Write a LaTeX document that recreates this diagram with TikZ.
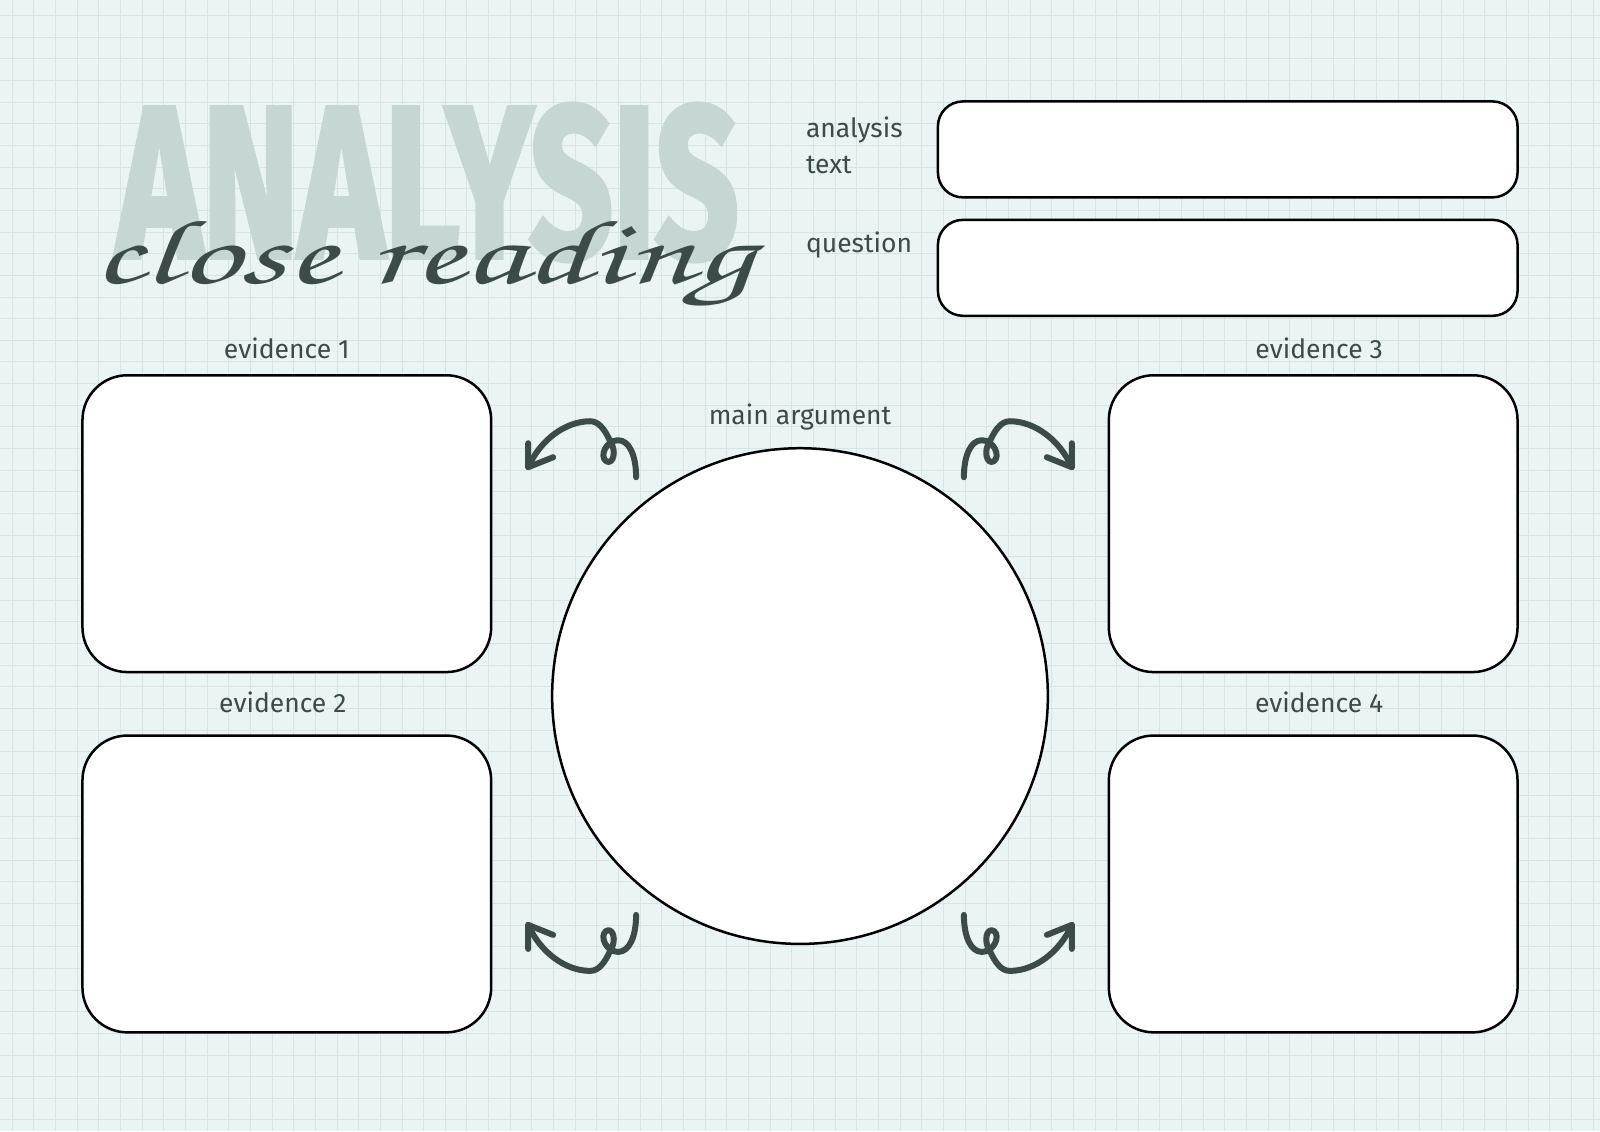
\documentclass[tikz,border=0pt]{standalone}
\usepackage{fontspec}
\usepackage{graphicx}
\setmainfont{Fira Sans}
\newfontfamily\bigfont{Fira Sans}[FakeBold=3]
\newfontfamily\handfont{texgyrechorus-mediumitalic.otf}
\usetikzlibrary{positioning}

\definecolor{paper}{HTML}{EAF4F5}
\definecolor{gridc}{HTML}{D6E4E6}
\definecolor{ink}{HTML}{3D4A4A}
\definecolor{titlec}{HTML}{C5D6D5}

\begin{document}
\begin{tikzpicture}
  [x=1pt,y=-1pt,
   box/.style={rectangle,draw=black,fill=white,line width=2.5pt,
               rounded corners=45pt,minimum width=409pt,minimum height=297pt,
               inner sep=0,outer sep=0},
   bar/.style={rectangle,draw=black,fill=white,line width=2.5pt,
               rounded corners=25pt,minimum width=580pt,minimum height=96pt,
               inner sep=0,outer sep=0},
   disc/.style={circle,draw=black,fill=white,line width=2.5pt,
               minimum size=496pt,inner sep=0,outer sep=0},
   lbl/.style={text=ink,font=\fontsize{26.5}{36}\selectfont,inner sep=0,outer sep=0},
   curly/.style={draw=ink,line width=6pt,line cap=round,line join=round}]
  % paper and grid
  \fill[paper] (0,0) rectangle (1600,1131);
  \foreach \i in {0,...,73}
    \draw[gridc,line width=1pt] ({11.7+21.67*\i},0) -- ++(0,1131);
  \foreach \j in {0,...,51}
    \draw[gridc,line width=1pt] (0,{15+21.67*\j}) -- ++(1600,0);
  \useasboundingbox (0,0) rectangle (1600,1131);

  % title
  \node[text=titlec,inner sep=0,anchor=north west] (title) at (116,104)
    {\resizebox{622pt}{152pt}{\bigfont\bfseries ANALYSIS}};
  \node[text=ink,inner sep=0,anchor=base west] (subtitle) at (93,283)
    {\resizebox{660pt}{62pt}{\handfont close reading}};

  % boxes
  \node[bar] (textbox) at (1228,149) {};
  \node[bar] (questbox) at (1228,267.5) {};
  \node[box] (ev1) at (286.5,523.5) {};
  \node[box] (ev2) at (286.5,884) {};
  \node[box] (ev3) at (1313.5,523.5) {};
  \node[box] (ev4) at (1313.5,884) {};
  \node[disc] (arg) at (800,696) {};

  % labels
  \node[lbl,align=left,anchor=north west] (textlbl) at (806,116) {analysis\\text};
  \node[lbl,anchor=base west] (questlbl) at (806,252) {question};
  \node[lbl,above=16pt of ev1] (lbl1) {evidence 1};
  \node[lbl,above=23pt of ev2,xshift=-4pt] (lbl2) {evidence 2};
  \node[lbl,above=16pt of ev3,xshift=6pt] (lbl3) {evidence 3};
  \node[lbl,above=23pt of ev4,xshift=6pt] (lbl4) {evidence 4};
  \node[lbl,above=18pt of arg] (arglbl) {main argument};

  % curly arrows round the circle
  \foreach \sx/\sy in {1/1,-1/1,1/-1,-1/-1}{
    \begin{scope}[shift={(arg.center)},xscale=\sx,yscale=\sy]
      \draw[curly] (-164,-219) .. controls (-164,-241) and (-171,-256) .. (-182,-256)
        .. controls (-194,-256) and (-201,-240) .. (-194,-235)
        .. controls (-187,-231) and (-183,-245) .. (-190,-255)
        .. controls (-195,-266) and (-201,-275) .. (-210,-275)
        .. controls (-235,-275) and (-260,-256) .. (-272,-229);
      \draw[curly] (-272,-253) -- (-272,-229) -- (-247,-239);
    \end{scope}
  }
\end{tikzpicture}
\end{document}
